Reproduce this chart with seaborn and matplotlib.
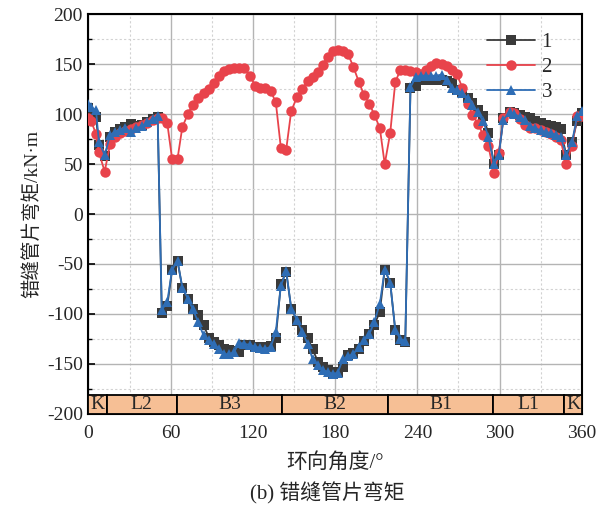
import numpy as np
import pandas as pd
import matplotlib
matplotlib.use("Agg")
import matplotlib.pyplot as plt
from matplotlib.patches import Rectangle
from matplotlib.ticker import MultipleLocator
import seaborn as sns

# ---------------- data ----------------
angle = [0, 2, 5.5, 7.6, 11.8, 15.8, 19.5, 23, 27, 31, 35, 39, 43, 47, 50.5,
         53.5, 57.5, 61, 65, 68.5, 72.5, 76, 80, 84, 88, 91.5, 95.3, 99.2, 102.6,
         106.3, 110, 113.6, 117.8, 121.8, 125.5, 129, 133, 136.7, 140.4, 144.3,
         148, 152.2, 156, 160, 163.5, 167.5, 170.8, 174.5, 178.2, 181.8, 185.8,
         189.5, 193.4, 197.4, 201, 205, 208.6, 212.6, 216.2, 220.2, 223.9, 227.5,
         231.2, 235, 238.8, 242.5, 246.4, 250, 253.7, 257.7, 261.3, 265, 269,
         272.9, 276.9, 280.2, 284.2, 288.1, 291.8, 296, 299.4, 302.8, 307.3,
         310.7, 315, 318.6, 322.5, 326.2, 329.9, 333.8, 337.5, 341, 344.5, 348.7,
         353, 356.6, 360]

m1 = [106, 100, 97, 69, 57.6, 77.6, 81.7, 85, 87, 90, 88, 89.5, 92, 95, 97,
      -99, -92.4, -56, -47, -74, -85, -95, -101, -111.4, -123.8, -128, -131.5,
      -135, -136.5, -137, -138, -131.5, -131, -133, -134, -133, -132, -124,
      -70, -58, -94.7, -107, -116.5, -124, -135, -148, -153, -156.6, -160,
      -158, -153, -141.6, -139, -135, -127, -120.5, -111, -98, -55.6, -68.6,
      -116.5, -126.5, -128, 126, 128, 134.5, 134.5, 134, 134, 134.5, 133, 131,
      124.5, 121.8, 116, 111, 104.4, 97.7, 81, 50.2, 59, 96, 101.7, 101, 99.4,
      97, 96, 92.7, 91, 89.4, 88, 87, 85.3, 59, 72.6, 92.7, 101]

m2 = [96, 93, 80, 62, 42.5, 70, 77.6, 81, 83, 85, 87, 89, 91.5, 94, 96,
      96.5, 91, 55.5, 55.5, 87, 100, 109.4, 116, 121, 125, 131, 138.5, 143.6,
      145.6, 146.6, 146.6, 146.6, 138, 128.5, 126, 126, 123, 112, 66.3, 64.6,
      103.4, 117, 125.5, 133, 137, 142, 149.6, 157, 163, 164.7, 163, 160, 147,
      132, 119.5, 110.4, 99.4, 86.3, 50, 81, 132, 144, 144.6, 143.6, 142,
      140.6, 144, 148.6, 151.3, 150.6, 148, 144, 140, 126, 110.4, 99.4, 90.4,
      79.3, 68.3, 40.8, 61, 96, 101.7, 101, 95, 89.4, 86, 86, 84.3, 81.7, 80.3,
      77.6, 74.3, 50.2, 68.6, 97.7, 97.7]

m3 = [110, 107, 103.7, 72.6, 59, 79, 82.6, 84, 86, 81.7, 86, 88, 91.7, 95, 97.7,
      -96, -88, -56, -47, -73.6, -84.7, -94.7, -108, -121.5, -126.5, -130,
      -135, -140, -140.6, -138, -129, -130, -131, -133, -134, -135, -133,
      -118, -72, -57, -94.7, -106, -118, -130, -145, -151.6, -156, -158, -160,
      -159, -145, -142.6, -140, -133, -126.5, -120, -108, -90, -55.6, -68.6,
      -116, -125, -127, 127, 137, 138.5, 138.5, 138.5, 138.5, 139.6, 134.5,
      126, 124, 121, 116, 109.4, 101.7, 92.7, 77.6, 50.2, 59, 94.4, 101.7,
      100.4, 97, 93.7, 87.7, 86, 83.7, 82, 81, 79.3, 77.6, 59, 72.6, 97.7, 102.7]

series_names = ["1", "2", "3"]
segment_edges = [0, 13.4, 64.4, 141.2, 218.5, 295.4, 347.2, 360]
segment_labels = ["K", "L2", "B3", "B2", "B1", "L1", "K"]

x_ticks = [0, 60, 120, 180, 240, 300, 360]
y_ticks = [-200, -150, -100, -50, 0, 50, 100, 150, 200]

df = pd.concat([
    pd.DataFrame({"angle": angle, "M": m, "series": name})
    for name, m in zip(series_names, [m1, m2, m3])
], ignore_index=True)

# ---------------- style ----------------
sns.set_theme(style="white")
plt.rcParams["font.family"] = ["Liberation Serif", "Noto Sans CJK SC"]
plt.rcParams["mathtext.fontset"] = "stix"
plt.rcParams["axes.unicode_minus"] = False

fig = plt.figure(figsize=(6.06, 5.09), dpi=100)
ax = fig.add_axes([0.146, 0.187, 0.814, 0.785])

palette = ["#3a3a3a", "#e8434b", "#2e6db5"]
sns.lineplot(data=df, x="angle", y="M", hue="series", style="series",
             markers=["s", "o", "^"], dashes=False, palette=palette,
             estimator=None, sort=False, linewidth=1.3, markersize=6.5,
             markeredgewidth=0, ax=ax, legend=True, zorder=3)

# slightly larger circles for series 2, like the reference
for ln in ax.lines:
    if ln.get_marker() == "o":
        ln.set_markersize(7.5)

ax.set_xlim(0, 360)
ax.set_ylim(-200, 200)
ax.set_xticks(x_ticks)
ax.set_yticks(y_ticks)
ax.xaxis.set_minor_locator(MultipleLocator(30))
ax.yaxis.set_minor_locator(MultipleLocator(25))

ax.grid(True, which="major", color="#b4b4b4", linewidth=1.0, linestyle="-", zorder=0)
ax.grid(True, which="minor", color="#d2d2d2", linewidth=0.8, linestyle=(0, (2, 2)), zorder=0)
ax.set_axisbelow(True)

ax.tick_params(axis="y", which="major", direction="in", length=5, width=1.2,
               left=True, right=False, labelsize=14, pad=4, color="black")
ax.tick_params(axis="y", which="minor", direction="in", length=3, width=1.0,
               left=True, right=False, color="black")
ax.tick_params(axis="x", which="both", length=0, labelsize=14, pad=8)

for s in ax.spines.values():
    s.set_color("black")
    s.set_linewidth(1.5)

# segment band
for x0, x1, lab in zip(segment_edges[:-1], segment_edges[1:], segment_labels):
    ax.add_patch(Rectangle((x0, -200), x1 - x0, 19, facecolor="#f6bf95",
                           edgecolor="black", linewidth=1.3, zorder=5))
    ax.text((x0 + x1) / 2, -190.5, lab, ha="center", va="center",
            fontsize=14, zorder=6)

ax.set_xlabel("环向角度/°", fontsize=15, labelpad=8)
ax.set_ylabel("错缝管片弯矩/kN·m", fontsize=14, labelpad=4)

handles, labels = ax.get_legend_handles_labels()
ax.legend(handles, series_names, loc="upper right", bbox_to_anchor=(0.965, 0.985),
          frameon=False, fontsize=15, handlelength=2.3, handletextpad=0.3,
          labelspacing=0.25, borderaxespad=0.2)

fig.text(0.54, 0.03, "(b) 错缝管片弯矩", ha="center", va="center", fontsize=15)

fig.savefig("out.png", dpi=100)
